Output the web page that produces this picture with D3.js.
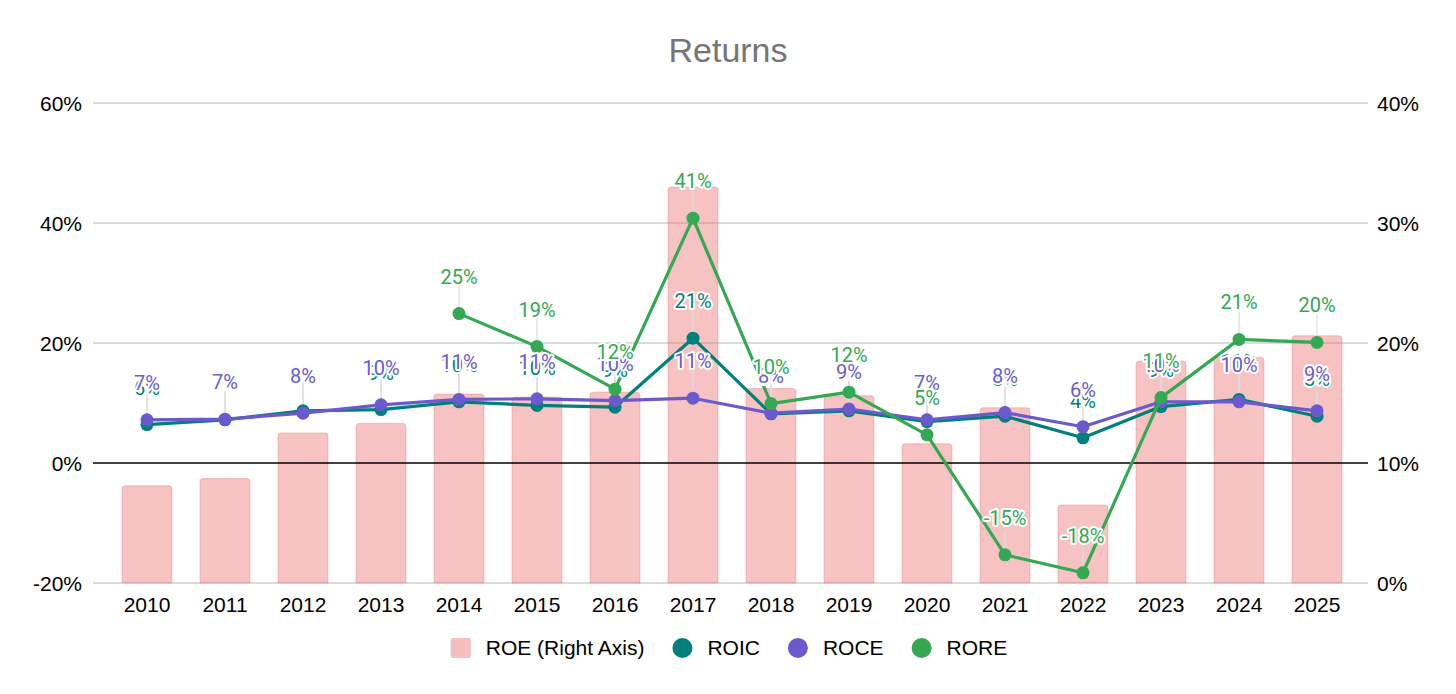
<!DOCTYPE html>
<html><head><meta charset="utf-8">
<script src="https://cdn.jsdelivr.net/npm/d3@7"></script>
<style>body{margin:0;background:#fff} svg{display:block}</style>
</head><body><svg id="c" width="1456" height="694"></svg>
<script>
const years = ["2010","2011","2012","2013","2014","2015","2016","2017","2018","2019","2020","2021","2022","2023","2024","2025"];
const roe  = [8.1, 8.7, 12.5, 13.3, 15.75, 15.5, 15.9, 33.0, 16.2, 15.6, 11.6, 14.6, 6.5, 18.5, 18.8, 20.6];
const roic = [6.4, 7.2, 8.7, 8.9, 10.2, 9.6, 9.3, 20.8, 8.2, 8.7, 6.9, 7.8, 4.2, 9.4, 10.6, 7.8];
const roce = [7.2, 7.3, 8.3, 9.7, 10.6, 10.7, 10.4, 10.8, 8.3, 9.0, 7.2, 8.4, 6.05, 10.2, 10.2, 8.7];
const rore = [null, null, null, null, 24.9, 19.4, 12.3, 40.8, 9.9, 11.8, 4.7, -15.3, -18.3, 10.9, 20.6, 20.1];
const leftTicks = [-20, 0, 20, 40, 60];
const rightTicks = [0, 10, 20, 30, 40];
const legendLabels = ["ROE (Right Axis)", "ROIC", "ROCE", "RORE"];

const colors = {roe: "rgba(236,110,110,0.42)", roic: "#00807b", roce: "#6a5acd", rore: "#34a853"};
const svg = d3.select("#c");
const W = 1456;
const x = d3.scaleBand().domain(years).range([108, 1356]).paddingInner(0.36).paddingOuter(0.18);
const yL = d3.scaleLinear().domain([-20, 60]).range([583, 103]);
const yR = d3.scaleLinear().domain([0, 40]).range([583, 103]);
const cx = d => x(d) + x.bandwidth() / 2;
const axisFont = "'Liberation Sans', Arial, sans-serif";

// title
svg.append("text").attr("x", W / 2).attr("y", 62).attr("text-anchor", "middle")
  .attr("font-family", axisFont).attr("font-size", 34).attr("fill", "#757575").text("Returns");

// gridlines
const g = svg.append("g");
g.selectAll("line.grid").data(leftTicks.filter(t => t !== 0)).join("line")
  .attr("x1", 93).attr("x2", 1368).attr("y1", d => yL(d)).attr("y2", d => yL(d))
  .attr("stroke", "#b7b7b7").attr("stroke-width", 1.2);

// left axis labels
const axL = d3.axisLeft(yL).tickValues(leftTicks).tickSize(0).tickPadding(0).tickFormat(d => d + "%");
const gL = svg.append("g").attr("transform", "translate(82,0)").call(axL);
gL.select(".domain").remove();
gL.selectAll("text").attr("font-family", axisFont).attr("font-size", 21).attr("fill", "#000").attr("dy", "0.35em");

// right axis labels
const axR = d3.axisRight(yR).tickValues(rightTicks).tickSize(0).tickPadding(0).tickFormat(d => d + "%");
const gR = svg.append("g").attr("transform", "translate(1377,0)").call(axR);
gR.select(".domain").remove();
gR.selectAll("text").attr("font-family", axisFont).attr("font-size", 21).attr("fill", "#000").attr("dy", "0.35em");

// x axis labels
const axX = d3.axisBottom(x).tickSize(0).tickPadding(0);
const gX = svg.append("g").attr("transform", "translate(0,597)").call(axX);
gX.select(".domain").remove();
gX.selectAll("text").attr("font-family", axisFont).attr("font-size", 21).attr("fill", "#000").attr("dy", "0.71em");

// bars (ROE, right axis)
const r = 3;
svg.append("g").selectAll("path").data(years.map((y, i) => ({y, v: roe[i]}))).join("path")
  .attr("d", d => {
    const x0 = x(d.y), x1 = x0 + x.bandwidth(), y0 = yR(0), y1 = yR(d.v);
    return `M${x0},${y0}V${y1 + r}Q${x0},${y1} ${x0 + r},${y1}H${x1 - r}Q${x1},${y1} ${x1},${y1 + r}V${y0}Z`;
  })
  .attr("fill", colors.roe).attr("stroke", "rgba(230,110,110,0.35)").attr("stroke-width", 1);

// zero line
svg.append("line").attr("x1", 93).attr("x2", 1368).attr("y1", yL(0)).attr("y2", yL(0))
  .attr("stroke", "#000").attr("stroke-width", 1.5);

const series = [
  {key: "roic", vals: roic},
  {key: "roce", vals: roce},
  {key: "rore", vals: rore}
];

// leader lines
const leaders = svg.append("g");
series.forEach(s => {
  leaders.selectAll(null).data(years.map((y, i) => ({y, v: s.vals[i]})).filter(d => d.v != null)).join("line")
    .attr("x1", d => cx(d.y)).attr("x2", d => cx(d.y))
    .attr("y1", d => yL(d.v) - 28).attr("y2", d => yL(d.v))
    .attr("stroke", "#dcdcdc").attr("stroke-width", 1.2);
});

// lines and points
const line = d3.line().defined(d => d.v != null).x(d => cx(d.y)).y(d => yL(d.v));
series.forEach(s => {
  const data = years.map((y, i) => ({y, v: s.vals[i]}));
  svg.append("path").datum(data).attr("d", line).attr("fill", "none")
    .attr("stroke", colors[s.key]).attr("stroke-width", 3.2).attr("stroke-linejoin", "round");
  svg.append("g").selectAll("circle").data(data.filter(d => d.v != null)).join("circle")
    .attr("cx", d => cx(d.y)).attr("cy", d => yL(d.v)).attr("r", 6.5).attr("fill", colors[s.key]);
});

// data labels
series.forEach(s => {
  const data = years.map((y, i) => ({y, v: s.vals[i]})).filter(d => d.v != null);
  svg.append("g").selectAll("text").data(data).join("text")
    .attr("x", d => cx(d.y)).attr("y", d => yL(d.v) - 30).attr("text-anchor", "middle")
    .attr("font-family", "Roboto, sans-serif").attr("font-size", 20)
    .attr("fill", colors[s.key]).attr("stroke", "#fff").attr("stroke-width", 4)
    .attr("stroke-linejoin", "round").attr("paint-order", "stroke")
    .text(d => Math.round(d.v) + "%");
});

// legend
const legColors = ["#f5bfbf", colors.roic, colors.roce, colors.rore];
const leg = svg.append("g");
const items = legendLabels.map((t, i) => {
  const gi = leg.append("g");
  const txt = gi.append("text").attr("x", 35).attr("y", 0).attr("dy", "0.35em")
    .attr("font-family", axisFont).attr("font-size", 21).attr("fill", "#000").text(t);
  if (i === 0) gi.append("rect").attr("x", 0).attr("y", -10).attr("width", 20).attr("height", 20).attr("rx", 2).attr("fill", legColors[i]);
  else gi.append("circle").attr("cx", 10).attr("cy", 0).attr("r", 10).attr("fill", legColors[i]);
  return {gi, w: 35 + txt.node().getComputedTextLength()};
});
const total = d3.sum(items, d => d.w) + 28 * (items.length - 1);
let lx = 729 - total / 2;
items.forEach(it => { it.gi.attr("transform", `translate(${lx},648)`); lx += it.w + 28; });
</script></body></html>
